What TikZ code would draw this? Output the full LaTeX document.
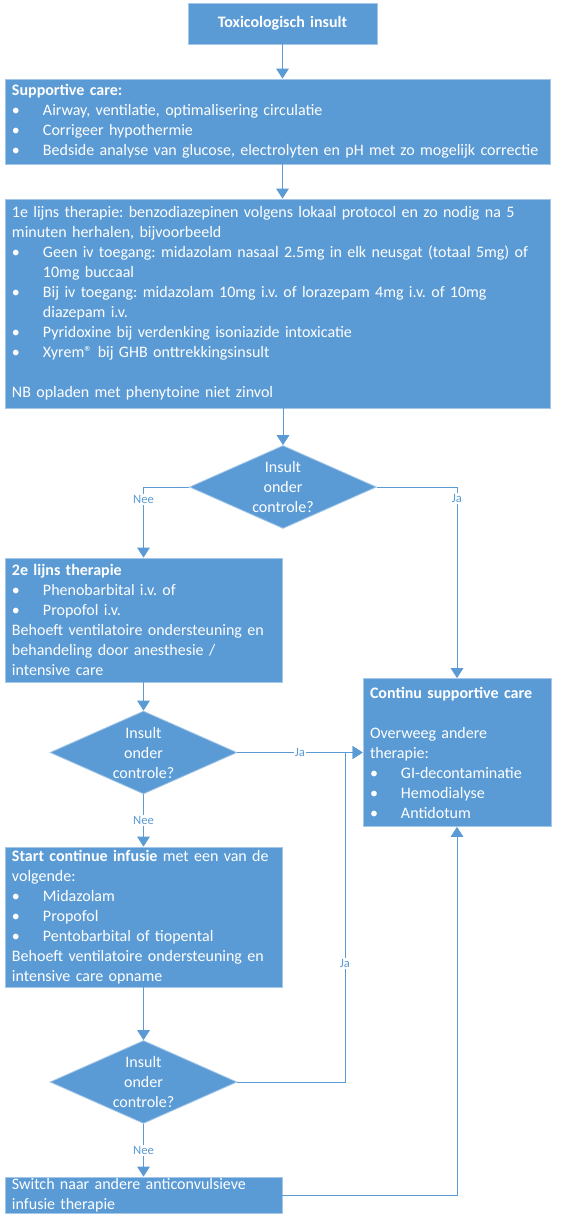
\documentclass[tikz,border=0pt]{standalone}
\usepackage{fontspec}
\setmainfont{Carlito}
\usepackage{tikz}
\usetikzlibrary{shapes.geometric,arrows.meta}

\definecolor{boxblue}{HTML}{5B9BD5}
\definecolor{lineblue}{HTML}{5B9BD5}
\setlength{\parindent}{0pt}
\frenchspacing
\hyphenpenalty=10000
\exhyphenpenalty=10000
\newcommand{\bul}{\par\hangindent=23.25pt\hangafter=1\makebox[23.25pt][l]{\textbullet}}
\newcommand{\blanco}{\par\mbox{}\par}

\begin{document}
\begin{tikzpicture}[x=0.75pt,y=-0.75pt,
    stap/.style={rectangle, fill=boxblue, draw=boxblue!55!white, line width=0.6pt,
        text=white, inner xsep=5.25pt, inner ysep=0pt, align=left,
        font=\fontsize{12pt}{15pt}\selectfont},
    keuze/.style={diamond, fill=boxblue, draw=boxblue!55!white, line width=0.6pt,
        text=white, aspect=2.2, inner sep=0pt, minimum width=140.25pt,
        minimum height=62.25pt, align=center, font=\fontsize{12pt}{15pt}\selectfont},
    pijl/.style={draw=lineblue, line width=0.75pt, -{Triangle[width=9.5pt,length=7.5pt]}},
    antw/.style={fill=white, text=lineblue, inner sep=1pt,
        font=\fontsize{9.5pt}{10pt}\selectfont}]
        \useasboundingbox (0,0) rectangle (566,1224);

        % boxes
        \node[stap, align=center, minimum width=141.75pt, text width=131.25pt, minimum height=30.75pt] (tox) at (282.5,23.5) {\textbf{Toxicologisch insult}};
        \node[stap, minimum width=408.75pt, text width=398.25pt, minimum height=63.75pt] (sup) at (277.5,121.5) {\textbf{Supportive care:}\bul Airway, ventilatie, optimalisering circulatie\bul Corrigeer hypothermie\bul Bedside analyse van glucose, electrolyten en pH met zo mogelijk correctie};
        \node[stap, minimum width=408.75pt, text width=398.25pt, minimum height=156.75pt] (first) at (277.5,303.5) {1e lijns therapie: benzodiazepinen volgens lokaal protocol en zo nodig na 5\newline minuten herhalen, bijvoorbeeld\bul Geen iv toegang: midazolam nasaal 2.5mg in elk neusgat (totaal 5mg) of\newline 10mg buccaal\bul Bij iv toegang: midazolam 10mg i.v. of lorazepam 4mg i.v. of 10mg\newline diazepam i.v.\bul Pyridoxine bij verdenking isoniazide intoxicatie\bul Xyrem\textregistered{} bij GHB onttrekkingsinsult\blanco NB opladen met phenytoine niet zinvol};
        \node[keuze] (dia1) at (283,487) {Insult\\onder\\controle?};
        \node[stap, minimum width=207.75pt, text width=197.25pt, minimum height=93pt] (second) at (143.5,620) {\textbf{2e lijns therapie}\bul Phenobarbital i.v. of\bul Propofol i.v.\par Behoeft ventilatoire ondersteuning en\newline behandeling door anesthesie /\newline intensive care};
        \node[keuze] (dia2) at (143.5,752.5) {Insult\\onder\\controle?};
        \node[stap, minimum width=141pt, text width=130.5pt, minimum height=111pt] (cont) at (457,752.5) {\textbf{Continu supportive care}\blanco Overweeg andere\newline therapie:\bul GI-decontaminatie\bul Hemodialyse\bul Antidotum};
        \node[stap, minimum width=207.75pt, text width=197.25pt, minimum height=105pt] (infus) at (143.5,917) {\textbf{Start continue infusie} met een van de\newline volgende:\bul Midazolam\bul Propofol\bul Pentobarbital of tiopental\par Behoeft ventilatoire ondersteuning en\newline intensive care opname};
        \node[keuze] (dia3) at (143.5,1082) {Insult\\onder\\controle?};
        \node[stap, minimum width=207.75pt, text width=197.25pt, minimum height=27pt] (switch) at (143.5,1195) {Switch naar andere anticonvulsieve\newline infusie therapie};
        \coordinate (jn) at (345,752.5);

        % connectors
        \draw[pijl] (tox.south) -- (tox.south |- sup.north);
        \draw[pijl] (tox.south |- sup.south) -- (tox.south |- first.north);
        \draw[pijl] (dia1.north |- first.south) -- (dia1.north);
        \draw[pijl] (dia1.west) -| node[antw, pos=0.59] {Nee} (second.north);
        \draw[pijl] (dia1.east) -| node[antw, pos=0.53] {Ja} (cont.north);
        \draw[pijl] (second.south) -- (dia2.north);
        \draw[pijl] (dia2.east) -- node[antw] {Ja} (cont.west);
        \draw[pijl] (dia2.south) -- node[antw] {Nee} (infus.north);
        \draw[pijl] (infus.south) -- (dia3.north);
        \draw[pijl] (dia3.east) -| node[antw, pos=0.68] {Ja} (jn) -- (cont.west);
        \draw[pijl] (dia3.south) -- node[antw] {Nee} (switch.north);
        \draw[pijl] (switch.east) -| (cont.south);

    \end{tikzpicture}
\end{document}
